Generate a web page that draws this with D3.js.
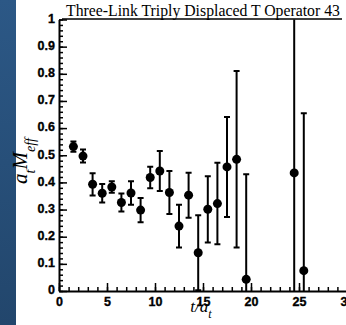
<!DOCTYPE html>
<html>
<head>
<meta charset="utf-8">
<script src="https://cdn.jsdelivr.net/npm/d3@7"></script>
<style>
  html, body { margin: 0; padding: 0; background: #fff; }
  svg { display: block; }
  .tick text { font-family: "Liberation Sans", Arial, sans-serif; font-weight: bold; font-size: 12.5px; }
</style>
</head>
<body>
<svg id="chart"></svg>
<script>
const W = 346;
const H = 325;

// effective mass plateau: time slice, value, symmetric error
const tSlices = [1.5, 2.5, 3.5, 4.5, 5.5, 6.5, 7.5, 8.5, 9.5, 10.5, 11.5, 12.5, 13.5, 14.5, 15.5, 16.5, 17.5, 18.5, 19.5, 24.5, 25.5];
const mEff = [0.532, 0.497, 0.393, 0.360, 0.383, 0.326, 0.361, 0.298, 0.418, 0.442, 0.363, 0.239, 0.353, 0.141, 0.301, 0.322, 0.457, 0.485, 0.043, 0.435, 0.075];
const mErr = [0.019, 0.024, 0.041, 0.034, 0.021, 0.033, 0.043, 0.045, 0.040, 0.074, 0.079, 0.079, 0.083, 0.138, 0.122, 0.150, 0.184, 0.325, 0.387, 0.620, 0.580];

const xMajor = [0, 5, 10, 15, 20, 25, 30];
const yMajor = [0, 0.1, 0.2, 0.3, 0.4, 0.5, 0.6, 0.7, 0.8, 0.9, 1];
const title = "Three-Link Triply Displaced T Operator 43";

const X0 = 59, X1 = 347, Y0 = 291, Y1 = 19.5;
const serif = "'Liberation Serif', 'Times New Roman', serif";

const svg = d3.select("#chart").attr("width", W).attr("height", H);

// dark side strip
const defs = svg.append("defs");
const grad = defs.append("linearGradient")
  .attr("id", "strip").attr("x1", 0).attr("y1", 0).attr("x2", 0).attr("y2", 1);
grad.append("stop").attr("offset", "0%").attr("stop-color", "#2c5886");
grad.append("stop").attr("offset", "100%").attr("stop-color", "#22466c");
svg.append("rect").attr("x", 0).attr("y", 0).attr("width", 16).attr("height", H)
  .attr("fill", "url(#strip)");

defs.append("clipPath").attr("id", "plot")
  .append("rect").attr("x", X0).attr("y", Y1).attr("width", X1 - X0).attr("height", Y0 - Y1);

const x = d3.scaleLinear().domain([0, 30]).range([X0, X1]);
const y = d3.scaleLinear().domain([0, 1]).range([Y0, Y1]);

// minor ticks
svg.append("g").attr("transform", `translate(0,${Y0})`)
  .call(d3.axisBottom(x).tickValues(d3.range(0, 31, 1)).tickSize(-4).tickSizeOuter(0).tickFormat(""))
  .call(g => g.select(".domain").remove())
  .call(g => g.selectAll("line").attr("stroke", "#000").attr("stroke-width", 1.5));
svg.append("g").attr("transform", `translate(${X0},0)`)
  .call(d3.axisLeft(y).tickValues(d3.range(0, 51).map(i => i * 0.02)).tickSize(-4).tickSizeOuter(0).tickFormat(""))
  .call(g => g.select(".domain").remove())
  .call(g => g.selectAll("line").attr("stroke", "#000").attr("stroke-width", 1.5));

// major ticks and labels
const xAxis = svg.append("g").attr("transform", `translate(0,${Y0})`)
  .call(d3.axisBottom(x).tickValues(xMajor).tickSize(-8).tickSizeOuter(0).tickFormat(d3.format("d")));
const yAxis = svg.append("g").attr("transform", `translate(${X0},0)`)
  .call(d3.axisLeft(y).tickValues(yMajor).tickSize(-8).tickSizeOuter(0).tickPadding(4)
    .tickFormat(d => d === 0 || d === 1 ? d : d3.format(".1f")(d)));

[xAxis, yAxis].forEach(g => {
  g.attr("font-family", null).attr("font-size", null).attr("font-weight", "bold");
  g.select(".domain").attr("stroke", "#000").attr("stroke-width", 2);
  g.selectAll(".tick line").attr("stroke", "#000").attr("stroke-width", 1.5);
  g.selectAll(".tick text").attr("fill", "#000").attr("stroke", "#000").attr("stroke-width", 0.35);
});
xAxis.selectAll(".tick text").attr("y", 6).attr("dy", "0.72em");
yAxis.selectAll(".tick text").attr("dy", "0.22em");

// error bars and points
const plot = svg.append("g").attr("clip-path", "url(#plot)");
const pts = tSlices.map((t, i) => ({ t, m: mEff[i], e: mErr[i] }));

plot.selectAll(".bar").data(pts).join("line")
  .attr("x1", d => x(d.t)).attr("x2", d => x(d.t))
  .attr("y1", d => y(d.m - d.e)).attr("y2", d => y(d.m + d.e))
  .attr("stroke", "#000").attr("stroke-width", 2);

const caps = pts.flatMap(d => [d.m - d.e, d.m + d.e].map(v => ({ t: d.t, v })));
plot.selectAll(".cap").data(caps).join("line")
  .attr("x1", d => x(d.t) - 3).attr("x2", d => x(d.t) + 3)
  .attr("y1", d => y(d.v)).attr("y2", d => y(d.v))
  .attr("stroke", "#000").attr("stroke-width", 2);

plot.selectAll(".pt").data(pts).join("circle")
  .attr("cx", d => x(d.t)).attr("cy", d => y(d.m)).attr("r", 4.5)
  .attr("fill", "#000");

// title, underlined
const titleText = svg.append("text")
  .attr("x", 66).attr("y", 16)
  .style("font-family", serif)
  .style("font-size", "14px")
  .attr("fill", "#000")
  .text(title);
const tw = titleText.node().getComputedTextLength();
titleText.style("font-size", (14 * 274 / tw).toFixed(2) + "px");
svg.append("line").attr("x1", 62).attr("x2", 342).attr("y1", 19).attr("y2", 19)
  .attr("stroke", "#000").attr("stroke-width", 1.5);

// axis titles
const xl = svg.append("text")
  .attr("x", 201).attr("y", 312)
  .attr("text-anchor", "middle")
  .style("font-family", serif).style("font-style", "italic").style("font-size", "17px");
xl.append("tspan").text("t/a");
xl.append("tspan").attr("dy", 6).style("font-size", "12px").text("t");

const yl = svg.append("text")
  .attr("transform", "translate(27,161) rotate(-90)")
  .attr("text-anchor", "middle")
  .style("font-family", serif).style("font-style", "italic").style("font-size", "21px");
yl.append("tspan").text("a");
yl.append("tspan").attr("dy", 8).style("font-size", "14px").text("t");
yl.append("tspan").attr("dy", -8).text("M");
yl.append("tspan").attr("dy", 8).style("font-size", "14px").text("eff");
</script>
</body>
</html>
